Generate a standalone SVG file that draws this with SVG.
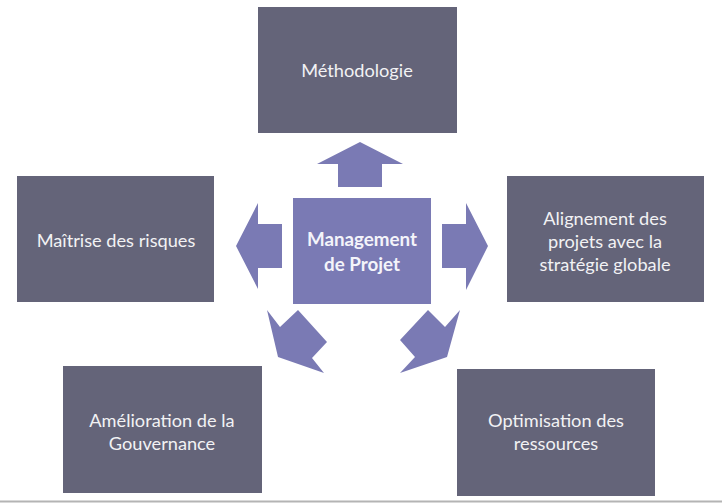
<svg xmlns="http://www.w3.org/2000/svg" width="722" height="503" viewBox="0 0 722 503">
<style>
.box{fill:#646479}
.hub{fill:#7a7ab4}
.arrow{fill:#7a7ab4}
text{font-family:Lato,"Open Sans","Liberation Sans",sans-serif;font-size:18.2px;fill:#f2f2f4;text-anchor:middle}
.bold{font-weight:bold;fill:#f4f4fa;font-size:18.8px}
</style>
<rect width="722" height="503" fill="#ffffff"/>
<line x1="0" y1="501.5" x2="722" y2="501.5" stroke="#b4b4b4" stroke-width="2"/>
<g id="connectors">
<polygon class="arrow" points="360,142 403,164 382,164 382,187 338,187 338,164 317,164"/>
<polygon class="arrow" points="236,246 258,203 258,224 282,224 282,268 258,268 258,289"/>
<polygon class="arrow" points="488,246 466,203 466,224 442,224 442,268 466,268 466,290"/>
<polygon class="arrow" points="267,310 280,327 298,310 327,342 312,358 324,373 278,357"/>
<polygon class="arrow" points="460,310 447,357 400,373 415,357 400,340 428,310 445,327"/>
</g>
<g id="hub">
<rect class="hub" x="293" y="198" width="138" height="106"/>
<text class="bold" x="362" y="246">Management</text>
<text class="bold" x="362" y="271">de Projet</text>
</g>
<g id="methodologie">
<rect class="box" x="258" y="7" width="199" height="126"/>
<text x="357" y="77">Méthodologie</text>
</g>
<g id="maitrise">
<rect class="box" x="17" y="176" width="197" height="126"/>
<text x="116" y="247">Maîtrise des risques</text>
</g>
<g id="alignement">
<rect class="box" x="507" y="176" width="197" height="126"/>
<text x="605" y="225">Alignement des</text>
<text x="605" y="248">projets avec la</text>
<text x="605" y="271">stratégie globale</text>
</g>
<g id="gouvernance">
<rect class="box" x="63" y="366" width="199" height="127"/>
<text x="162" y="427">Amélioration de la</text>
<text x="162" y="450">Gouvernance</text>
</g>
<g id="ressources">
<rect class="box" x="457" y="369" width="198" height="127"/>
<text x="556" y="427">Optimisation des</text>
<text x="556" y="450">ressources</text>
</g>
</svg>
